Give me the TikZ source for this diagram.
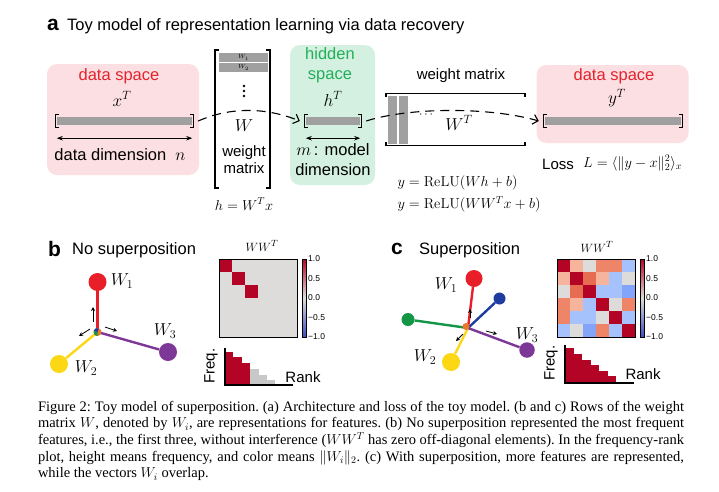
\documentclass[tikz,border=0pt]{standalone}
\usepackage[no-math]{fontspec}
\setmainfont{Liberation Serif}
\setsansfont{Liberation Sans}
\usepackage{amsmath}
\usetikzlibrary{arrows.meta}

\definecolor{pinkbg}{RGB}{252,223,226}
\definecolor{greenbg}{RGB}{211,240,224}
\definecolor{spred}{RGB}{228,35,45}
\definecolor{spgreen}{RGB}{35,175,90}
\definecolor{bargray}{RGB}{160,160,160}
\definecolor{wred}{RGB}{232,30,40}
\definecolor{wyellow}{RGB}{252,215,20}
\definecolor{wpurple}{RGB}{125,55,150}
\definecolor{wblue}{RGB}{30,60,160}
\definecolor{wgreen}{RGB}{20,150,70}
\definecolor{worange}{RGB}{235,120,40}
\definecolor{hA}{RGB}{180,4,38}
\definecolor{hB}{RGB}{238,132,104}
\definecolor{hC}{RGB}{245,180,155}
\definecolor{hD}{RGB}{222,220,218}
\definecolor{hE}{RGB}{165,194,252}
\definecolor{hF}{RGB}{130,165,250}
\definecolor{hG}{RGB}{230,108,82}
\definecolor{cwblue}{RGB}{59,76,192}
\definecolor{lgray}{RGB}{200,200,200}

% brackets round a vector bar
\newcommand{\barbrk}[1]{%
  \draw[brk] ([xshift=2pt,yshift=2pt]#1.north west) -| ([xshift=-1pt,yshift=-2pt]#1.south west) -- ++(3,0);
  \draw[brk] ([xshift=-2pt,yshift=2pt]#1.north east) -| ([xshift=1pt,yshift=-2pt]#1.south east) -- ++(-3,0);}

\begin{document}
\begin{tikzpicture}[x=1pt, y=-1pt,
  sf/.style={font=\sffamily\fontsize{16.5}{20}\selectfont},
  sfs/.style={font=\sffamily\fontsize{15}{17}\selectfont},
  mth/.style={font=\fontsize{17}{20}\selectfont},
  mths/.style={font=\fontsize{14}{20}\selectfont},
  panel/.style={font=\sffamily\bfseries\fontsize{21}{22}\selectfont},
  bx/.style={rounded corners=10pt, inner sep=0pt},
  bar/.style={fill=bargray, inner sep=0pt, minimum height=8pt},
  brk/.style={line width=1.2pt},
  dim/.style={{Stealth[length=6pt,width=4.5pt]}-{Stealth[length=6pt,width=4.5pt]}, line width=0.9pt},
  flow/.style={dash pattern=on 9pt off 6pt, line width=1.1pt, -{Straight Barb[length=5pt,width=10pt]}},
  dot/.style={circle, inner sep=0pt},
  vec/.style={line width=2.4pt},
  tick/.style={-{Stealth[length=4pt,width=4pt]}, line width=0.8pt},
  cb/.style={font=\sffamily\fontsize{8.5}{10}\selectfont, anchor=west, inner sep=1pt},
]
\useasboundingbox (0,0) rectangle (719,491);

% ---------- a
\node[panel, anchor=west, inner sep=0pt] (alabel) at (47,25) {a};
\node[sf, anchor=west, inner sep=0pt] (atitle) at (67,26) {Toy model of representation learning via data recovery};

\node[bx, fill=pinkbg, minimum width=152pt, minimum height=111pt] (xbox) at (123,119.5) {};
\node[sf, spred] (xlabel) at (119,76) {data space};
\node[mth] (xt) at (122,99) {$x^T$};
\node[bar, minimum width=135pt] (xbar) at (124.5,121) {};
\barbrk{xbar}
\draw[dim] ([yshift=-13pt]xbar.south west) -- ([yshift=-13pt]xbar.south east);
\node[sf] (xdim) at (120,155) {data dimension \ $n$};

% weight matrix W
\draw[brk] (219,50) -| (215,188) -- (219,188);
\draw[brk] (266,50) -| (270,188) -- (266,188);
\fill[bargray] (219,53) rectangle (268,61.5);
\fill[bargray] (219,63) rectangle (268,71.5);
\node[font=\fontsize{6}{6}\selectfont, inner sep=0pt] (wone) at (243.5,57.5) {$W_1$};
\node[font=\fontsize{6}{6}\selectfont, inner sep=0pt] (wtwo) at (243.5,67.5) {$W_2$};
\foreach \yy in {86,91,96}
  \fill (244,\yy) circle (1.3);
\node[mth] (wlabel) at (244,126) {$W$};
\node[sfs, align=center] (wtext) at (244,160) {weight\\matrix};
\node[mths] (heq) at (244,204) {$h = W^T x$};

% hidden space
\node[bx, fill=greenbg, minimum width=85pt, minimum height=140pt] (hbox) at (332.5,115) {};
\node[sf, spgreen, align=center] (hlabel) at (330,65) {hidden\\space};
\node[mth] (ht) at (333,99) {$h^T$};
\node[bar, minimum width=54pt] (hbar) at (333,121) {};
\barbrk{hbar}
\draw[dim] ([yshift=-13pt]hbar.south west) -- ([yshift=-13pt]hbar.south east);
\node[sf, align=center] (hdim) at (333,160) {$m$\,: model\\dimension};

% weight matrix W^T
\node[sfs] (wttext) at (461,76) {weight matrix};
\draw[brk] (386,97) -- (386,93.5) -- (525,93.5) -- (525,97);
\draw[brk] (386,142) -- (386,145.5) -- (525,145.5) -- (525,142);
\fill[bargray] (388,95.5) rectangle (397,144);
\fill[bargray] (399,95.5) rectangle (408,144);
\node[font=\fontsize{12}{12}\selectfont] (wtdots) at (427,115) {$\cdots$};
\node[mth] (wtlabel) at (459,123) {$W^T$};
\node[mths, anchor=west, align=left] (relu) at (394,194) {$y=\mathrm{ReLU}(Wh+b)$\\[2pt]$y=\mathrm{ReLU}(WW^Tx+b)$};

% output data space
\node[bx, fill=pinkbg, minimum width=152pt, minimum height=78pt] (ybox) at (612.5,104) {};
\node[sf, spred] (ylabel) at (614,76) {data space};
\node[mth] (yt) at (617,98) {$y^T$};
\node[bar, minimum width=136pt] (ybar) at (613,121) {};
\barbrk{ybar}
\node[sfs, anchor=west, inner sep=0pt] (loss) at (542,164) {Loss};
\node[mths, anchor=west, inner sep=0pt] (lossf) at (583,163) {$L=\langle \|y-x\|_2^2\rangle_x$};

\draw[flow] ([xshift=6pt]xbar.east) .. controls (230,107) and (265,107) .. ([xshift=-6pt]hbar.west);
\draw[flow] ([xshift=6pt]hbar.east) .. controls (410,107) and (490,107) .. ([xshift=-6pt]ybar.west);

% ---------- b
\node[panel, anchor=west, inner sep=0pt] (blabel) at (48,249) {b};
\node[sf, anchor=west, inner sep=0pt] (btitle) at (72,250) {No superposition};

\coordinate (bo) at (97.5,332);
\node[dot, fill=wred, minimum size=18pt] (bw1) at (97.5,282) {};
\node[dot, fill=wyellow, minimum size=18pt] (bw2) at (59,364) {};
\node[dot, fill=wpurple, minimum size=18pt] (bw3) at (168,352) {};
\draw[vec, wred] (bo) -- (bw1);
\draw[vec, wyellow] (bo) -- (bw2);
\draw[vec, wpurple] (bo) -- (bw3);
\fill[worange] (bo) circle (4);
\fill[wgreen] (bo) -- ++(90:4) arc (90:200:4) -- cycle;
\fill[wblue] (bo) -- ++(200:4) arc (200:290:4) -- cycle;
\draw[tick] (93,322) -- (93,307);
\draw[tick] (90,329) -- (79,336);
\draw[tick] (105,327) -- (117,331);
\node[mth] (bl1) at (122,281) {$W_1$};
\node[mth] (bl2) at (86,368) {$W_2$};
\node[mth] (bl3) at (165,331) {$W_3$};

\node[font=\fontsize{13}{14}\selectfont] (bww) at (262,246) {$WW^T$};
\fill[hD] (219,259) rectangle (297,337);
\foreach \k in {0,1,2}
  \fill[hA] ({219+13*\k},{259+13*\k}) rectangle ++(13,13);
\draw[line width=0.5pt] (219,259) rectangle (297,337);
\shade[top color=hA, bottom color=cwblue, middle color=hD] (302,259) rectangle (306,337);
\draw[line width=0.4pt] (302,259) rectangle (306,337);
\foreach \v/\t [count=\n] in {1.0/1.0,0.5/0.5,0.0/0.0,-0.5/−0.5,-1.0/−1.0}
  \node[cb] (bcb\n) at (307,{298-39*\v}) {\t};

\foreach \h [count=\n] in {351.5,356.5,363,369,375,380}
  \fill[\ifnum\n<4 hA\else lgray\fi] ({225+8.4*(\n-1)},\h) rectangle ({225+8.4*\n},385);
\draw[line width=1.1pt] (225,348) -- (225,385) -- (293,385);
\node[sfs, rotate=90] (bfreq) at (211,366) {Freq.};
\node[sfs] (brank) at (303,377) {Rank};

% ---------- c
\node[panel, anchor=west, inner sep=0pt] (clabel) at (391,249) {c};
\node[sf, anchor=west, inner sep=0pt] (ctitle) at (419,250) {Superposition};

\coordinate (co) at (468,328);
\node[dot, fill=wred, minimum size=17pt] (cw1) at (474,278.5) {};
\node[dot, fill=wblue, minimum size=12pt] (cw4) at (499.5,298.5) {};
\node[dot, fill=wgreen, minimum size=13pt] (cw5) at (408,319.5) {};
\node[dot, fill=wyellow, minimum size=18pt] (cw2) at (451,362) {};
\node[dot, fill=wpurple, minimum size=15.5pt] (cw3) at (527,350) {};
\draw[vec, wred] (co) -- (cw1);
\draw[vec, wblue] (co) -- (cw4);
\draw[vec, wgreen] (co) -- (cw5);
\draw[vec, wyellow] (co) -- (cw2);
\draw[vec, wpurple] (co) -- (cw3);
\fill[worange] (466,326.5) circle (3.5);
\draw[tick] (470,318) -- (470,309);
\draw[tick] (463,334) -- (456,341);
\draw[tick] (486,331) -- (497,334);
\node[mth] (cl1) at (446,285) {$W_1$};
\node[mth] (cl2) at (425,357) {$W_2$};
\node[mth] (cl3) at (527,335) {$W_3$};

\node[font=\fontsize{13}{14}\selectfont] (cww) at (597,247) {$WW^T$};
\foreach \hrow [count=\i] in {{hA,hC,hD,hB,hB,hE},{hC,hA,hG,hC,hE,hD},{hD,hG,hA,hE,hE,hF},{hB,hC,hE,hA,hD,hB},{hB,hE,hE,hD,hA,hE},{hE,hD,hF,hB,hE,hA}}
  \foreach \hc [count=\j] in \hrow
    \fill[\hc] ({557+13*(\j-1)},{259+13*(\i-1)}) rectangle ++(13,13);
\draw[line width=0.5pt] (557,259) rectangle (635,337);
\shade[top color=hA, bottom color=cwblue, middle color=hD] (640,259) rectangle (644,337);
\draw[line width=0.4pt] (640,259) rectangle (644,337);
\foreach \v/\t [count=\n] in {1.0/1.0,0.5/0.5,0.0/0.0,-0.5/−0.5,-1.0/−1.0}
  \node[cb] (ccb\n) at (645,{298-39*\v}) {\t};

\foreach \h [count=\n] in {348,354,360,365,371,376}
  \fill[hA] ({565+8.5*(\n-1)},\h) rectangle ({565+8.5*\n},383);
\draw[line width=1.1pt] (565,345) -- (565,383) -- (634,383);
\node[sfs, rotate=90] (cfreq) at (551,363) {Freq.};
\node[sfs] (crank) at (643,374) {Rank};

% ---------- caption
\node[font=\fontsize{14.5}{16.7}\selectfont, text width=646pt, align=justify, inner sep=0pt] (caption) at (361,441) {\frenchspacing Figure 2: Toy model of superposition. (a) Architecture and loss of the toy model. (b and c) Rows of the weight\linebreak
matrix $W$, denoted by $W_i$, are representations for features. (b) No superposition represented the most frequent\linebreak
features, i.e., the first three, without interference ($WW^T$ has zero off-diagonal elements). In the frequency-rank\linebreak
plot, height means frequency, and color means $\|W_i\|_2$. (c) With superposition, more features are represented,\linebreak
while the vectors $W_i$ overlap.};
\end{tikzpicture}
\end{document}
